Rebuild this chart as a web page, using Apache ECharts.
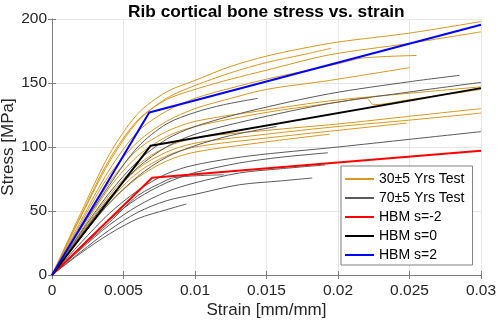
<!DOCTYPE html>
<html>
<head>
<meta charset="utf-8">
<script src="https://cdn.jsdelivr.net/npm/echarts@6/dist/echarts.min.js"></script>
<style>
  html, body { margin: 0; padding: 0; background: #fff; }
  #chart { width: 498px; height: 324px; }
</style>
</head>
<body>
<div id="chart"></div>
<script>
// tick labels
const xTicks = ["0", "0.005", "0.01", "0.015", "0.02", "0.025", "0.03"];
const yTicks = ["0", "50", "100", "150", "200"];

// 30±5 years test curves [strain, stress MPa]
const young = [
  [[0,0],[0.002,48],[0.004,94],[0.006,126],[0.008,143],[0.01,152],[0.0125,163],[0.015,171],[0.0175,177],[0.02,182],[0.025,189],[0.03,198]],
  [[0,0],[0.002,46],[0.004,90],[0.006,121],[0.008,137],[0.01,145],[0.0125,153],[0.015,160],[0.0194,172],[0.025,181],[0.03,190]],
  [[0,0],[0.002,45],[0.004,88],[0.006,120],[0.008,138],[0.01,148],[0.0125,158],[0.015,166],[0.0175,172],[0.0195,177]],
  [[0,0],[0.002,42],[0.004,82],[0.006,112],[0.008,128],[0.01,138],[0.0125,146],[0.015,153],[0.02,165],[0.0217,169.5],[0.0255,171.5]],
  [[0,0],[0.002,40],[0.004,78],[0.006,104],[0.008,120],[0.01,130],[0.0125,138],[0.015,145],[0.0194,152],[0.025,162]],
  [[0,0],[0.002,36],[0.004,72],[0.006,98],[0.008,112],[0.01,120],[0.015,129],[0.0194,136],[0.025,142],[0.03,147]],
  [[0,0],[0.002,34],[0.004,68],[0.006,93],[0.008,108],[0.01,116],[0.015,127],[0.02,135],[0.022,138],[0.0225,133],[0.025,137],[0.03,145]],
  [[0,0],[0.002,32],[0.004,62],[0.006,86],[0.008,100],[0.01,107],[0.015,113],[0.02,118],[0.025,124],[0.03,130]],
  [[0,0],[0.002,31],[0.004,60],[0.006,83],[0.008,96],[0.01,103],[0.015,110],[0.02,116],[0.025,121],[0.03,126.5]],
  [[0,0],[0.002,30],[0.004,58],[0.006,80],[0.008,93],[0.01,100],[0.015,107],[0.02,113],[0.0248,118.7]],
  [[0,0],[0.002,29],[0.004,56],[0.006,76],[0.008,89],[0.01,96],[0.015,104],[0.0194,110]]
];

// 70±5 years test curves
const old = [
  [[0,0],[0.002,33],[0.004,64],[0.006,89],[0.008,106],[0.01,116],[0.0138,128],[0.0194,141.6],[0.025,151],[0.0285,156]],
  [[0,0],[0.002,31],[0.004,60],[0.006,84],[0.008,100],[0.01,110],[0.0138,121],[0.0194,134],[0.025,143],[0.03,150.5]],
  [[0,0],[0.002,36],[0.004,70],[0.006,100],[0.008,118],[0.01,127],[0.012,133],[0.0144,138]],
  [[0,0],[0.002,29],[0.004,56],[0.006,77],[0.008,92],[0.01,101],[0.0125,109],[0.0157,116]],
  [[0,0],[0.002,25],[0.004,48],[0.006,66],[0.008,79],[0.01,86],[0.0138,93],[0.02,100],[0.025,106],[0.03,112]],
  [[0,0],[0.002,22],[0.004,43],[0.006,60],[0.008,72],[0.01,80],[0.0131,87.5],[0.016,92],[0.0193,95.5]],
  [[0,0],[0.002,20],[0.004,39],[0.006,54],[0.008,65],[0.01,72],[0.0131,79.7],[0.016,83],[0.0191,86]],
  [[0,0],[0.002,21],[0.004,41],[0.006,62],[0.008,74],[0.0085,76],[0.01,77.5],[0.012,78.3]],
  [[0,0],[0.002,18],[0.004,35],[0.006,49],[0.008,58],[0.01,63],[0.0131,70.5],[0.016,73.5],[0.0182,75.8]],
  [[0,0],[0.002,17],[0.004,32],[0.006,44],[0.008,51],[0.0094,55.5]]
];

// HBM bilinear models
const hbmLow = [[0,0],[0.007,76],[0.03,97]];
const hbmMid = [[0,0],[0.0069,101],[0.03,146]];
const hbmHigh = [[0,0],[0.0068,127],[0.03,195.5]];

const orange = "#D6981F";
const gray = "#5a5a5a";
const font = "Liberation Sans, Arial, sans-serif";

const chart = echarts.init(document.getElementById("chart"));

const series = [];
young.forEach(d => series.push({
  name: "30\u00b15 Yrs Test", type: "line", data: d, symbol: "none", smooth: 0.3,
  lineStyle: { color: orange, width: 1 }, itemStyle: { color: orange }
}));
old.forEach(d => series.push({
  name: "70\u00b15 Yrs Test", type: "line", data: d, symbol: "none", smooth: 0.3,
  lineStyle: { color: gray, width: 1 }, itemStyle: { color: gray }
}));
[["HBM s=-2", hbmLow, "#ff0000"], ["HBM s=0", hbmMid, "#000000"], ["HBM s=2", hbmHigh, "#0000ff"]]
  .forEach(([n, d, c]) => series.push({
    name: n, type: "line", data: d, symbol: "none",
    lineStyle: { color: c, width: 2 }, itemStyle: { color: c }
  }));

const boxLine = { show: true, lineStyle: { color: "#808080", width: 1 } };
const tickIn = { show: true, inside: true, length: 4, lineStyle: { color: "#808080" } };

const option = {
  animation: false,
  backgroundColor: "#fff",
  textStyle: { fontFamily: font },
  title: {
    text: "Rib cortical bone stress vs. strain",
    left: 123, top: -1,
    textStyle: { fontSize: 17.3, fontWeight: "bold", color: "#000", fontFamily: font }
  },
  grid: { left: 52, right: 17, top: 19, bottom: 49, containLabel: false, outerBoundsMode: "none" },
  legend: {
    orient: "vertical", left: 341, top: 166,
    data: ["30\u00b15 Yrs Test", "70\u00b15 Yrs Test", "HBM s=-2", "HBM s=0", "HBM s=2"],
    itemWidth: 29, itemHeight: 14, itemGap: 5,
    padding: [6, 8, 3, 3],
    itemStyle: { opacity: 0 },
    backgroundColor: "#fff", borderColor: "#808080", borderWidth: 1,
    textStyle: { fontSize: 14, color: "#000", fontFamily: font }
  },
  xAxis: [{
    type: "value", min: 0, max: 0.03, interval: 0.005,
    name: "Strain [mm/mm]", nameLocation: "middle", nameGap: 27, nameMoveOverlap: false,
    nameTextStyle: { fontSize: 17, color: "#262626" },
    axisLine: boxLine, axisTick: tickIn,
    axisLabel: { fontSize: 15.5, color: "#262626", margin: 8,
      formatter: v => xTicks[Math.round(v / 0.005)] },
    splitLine: { show: true, lineStyle: { color: "#e6e6e6" } }
  }, {
    type: "value", position: "top", min: 0, max: 0.03, interval: 0.005,
    axisLine: boxLine, axisTick: tickIn, axisLabel: { show: false }, splitLine: { show: false }
  }],
  yAxis: [{
    type: "value", min: 0, max: 200, interval: 50,
    name: "Stress [MPa]", nameLocation: "middle", nameGap: 35, nameMoveOverlap: false,
    nameTextStyle: { fontSize: 17, color: "#262626" },
    axisLine: boxLine, axisTick: tickIn,
    axisLabel: { fontSize: 15.5, color: "#262626", margin: 5,
      formatter: v => yTicks[Math.round(v / 50)] },
    splitLine: { show: true, lineStyle: { color: "#e6e6e6" } }
  }, {
    type: "value", position: "right", min: 0, max: 200, interval: 50,
    axisLine: boxLine, axisTick: tickIn, axisLabel: { show: false }, splitLine: { show: false }
  }],
  series: series
};

chart.setOption(option);
</script>
</body>
</html>
